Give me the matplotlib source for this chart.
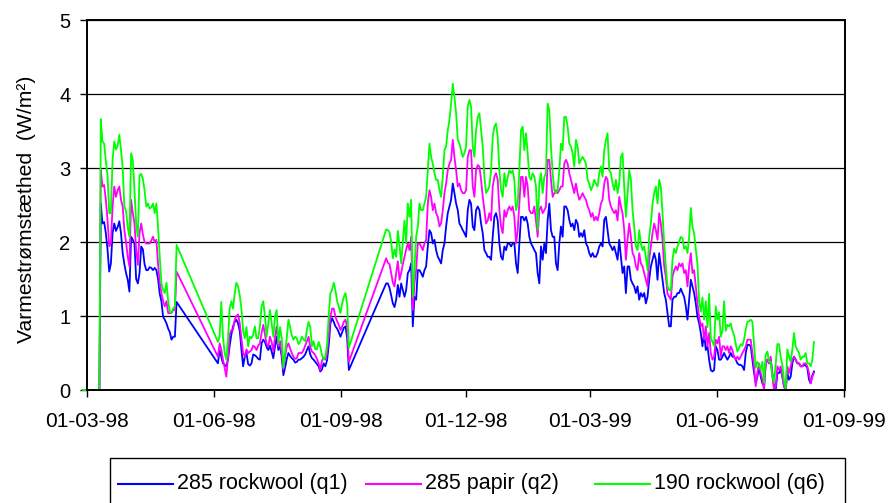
import numpy as np
import pandas as pd
import matplotlib
matplotlib.use("Agg")
import matplotlib.pyplot as plt
import matplotlib.dates as mdates
from matplotlib.lines import Line2D
from matplotlib.patches import Rectangle

plt.rcParams['font.family'] = ['Liberation Sans', 'DejaVu Sans']

# measuring periods (evenly spaced readings inside each period, lines jump the gaps)
period_start = ["1998-02-26", "1998-03-11", "1998-06-04", "1998-10-04 02:00"]
period_end = ["1998-03-10", "1998-05-05", "1998-09-07", "1999-08-10 12:00"]

# 285 rockwool (q1)
q1_p0 = [0, 0]
q1_p1 = [2.52, 2.25, 2.27, 2.12, 1.9, 1.6, 1.71, 2.12, 2.25, 2.15, 2.2, 2.28, 2.12, 1.85, 1.7, 1.58,
         1.49, 1.33, 2.07, 2.03, 1.98, 1.5, 1.44, 1.58, 1.94, 1.9, 1.7, 1.62, 1.62, 1.66, 1.65, 1.62,
         1.65, 1.62, 1.5, 1.3, 1.2, 0.99, 0.95, 0.9, 0.83, 0.78, 0.68, 0.72, 0.72, 1.19]
q1_p2 = [0.36, 0.54, 0.45, 0.36, 0.34, 0.32, 0.41, 0.6, 0.75, 0.86,
         0.92, 0.95, 0.9, 0.8, 0.55, 0.32, 0.45, 0.5, 0.35, 0.33,
         0.36, 0.48, 0.47, 0.45, 0.42, 0.41, 0.63, 0.68, 0.65, 0.58,
         0.54, 0.6, 0.52, 0.43, 0.59, 0.72, 0.54, 0.6, 0.45, 0.2,
         0.3, 0.42, 0.5, 0.46, 0.43, 0.41, 0.37, 0.38, 0.41, 0.41,
         0.43, 0.45, 0.48, 0.54, 0.59, 0.48, 0.43, 0.41, 0.38, 0.35,
         0.32, 0.25, 0.28, 0.36, 0.32, 0.4, 0.6, 0.9, 0.97, 0.92,
         0.86, 0.83, 0.78, 0.72, 0.78, 0.84, 0.86, 0.7, 0.27]
q1_p3 = [1.44, 1.44, 1.38, 1.28, 1.17, 1.12, 1.22, 1.42, 1.26,
         1.44, 1.35, 1.26, 1.35, 1.58, 1.62, 1.71, 0.86, 1.26, 1.22,
         1.62, 1.62, 1.58, 1.53, 1.62, 1.67, 1.94, 2.16, 2.12, 1.98,
         2.03, 1.89, 1.8, 1.76, 1.71, 1.89, 1.98, 2.21, 2.39, 2.48,
         2.57, 2.79, 2.66, 2.52, 2.43, 2.25, 2.21, 2.16, 2.12, 2.07,
         2.43, 2.57, 2.52, 2.21, 2.16, 2.43, 2.48, 2.43, 2.25, 2.12,
         1.89, 1.85, 1.8, 1.8, 1.76, 2.07, 2.34, 2.39, 2.29, 1.98,
         1.8, 1.76, 1.94, 1.89, 1.98, 1.98, 1.94, 1.98, 1.98, 1.71,
         1.58, 1.98, 2.34, 2.34, 2.29, 2.34, 2.25, 2.07, 1.98,
         1.94, 1.89, 1.85, 1.58, 1.44, 1.94, 1.76, 1.98, 1.85, 2.3,
         2.52, 2.16, 2.07, 2.07, 1.71, 1.62, 1.98, 2.21, 2.07, 2.48,
         2.48, 2.43, 2.3, 2.21, 2.25, 2.16, 2.3, 2.25, 2.07, 2.12,
         2.07, 2.16, 1.98, 1.94, 1.85, 1.8, 1.85, 1.8, 1.8, 1.85,
         1.94, 1.98, 1.94, 2.3, 2.34, 2.16, 1.98, 1.94, 1.89, 1.94,
         1.85, 1.76, 2.03, 1.8, 1.58, 1.67, 1.31, 1.67, 1.67, 1.49,
         1.44, 1.4, 1.31, 1.4, 1.22, 1.31, 1.26, 1.31, 1.17, 1.26,
         1.49, 1.67, 1.76, 1.85, 1.76, 1.49, 1.85, 1.67, 1.49, 1.31,
         1.22, 1.04, 0.86,
         0.86, 1.22, 1.26, 1.26, 1.31, 1.31, 1.37, 1.31, 1.26, 1.13,
         0.95, 1.22, 1.49, 1.4, 1.31, 1.17, 0.99, 0.9, 0.77, 0.59,
         0.77, 0.54, 0.59, 0.41, 0.27, 0.25, 0.27, 0.59, 0.54, 0.41,
         0.41, 0.45, 0.5, 0.45, 0.41, 0.45, 0.5, 0.45, 0.45, 0.41,
         0.36, 0.34, 0.34, 0.32, 0.27, 0.5, 0.61, 0.61, 0.59, 0.41,
         0.23, 0.09, 0.18, 0.32, 0.18, 0.09, 0.05, 0.36, 0.41, 0.36,
         0.41, 0.23, 0.05, 0.0, 0.23, 0.23, 0.27, 0.18, 0.05, 0.0,
         0.23, 0.14, 0.18, 0.36, 0.45, 0.41, 0.36, 0.36, 0.32, 0.32,
         0.34, 0.33, 0.3, 0.14, 0.09, 0.2, 0.25]

# 285 papir (q2)
q2_p0 = [0, 0]
q2_p1 = [2.97, 2.75, 2.77, 2.57, 2.3, 1.94, 1.98, 2.48, 2.75, 2.61, 2.7, 2.75, 2.57, 2.48, 2.16, 2.0,
         1.8, 1.67, 2.57, 2.39, 2.25, 1.9, 1.69, 2.12, 2.25, 2.1, 2.0, 1.98, 1.98, 1.98, 2.02, 2.07,
         2.0, 2.03, 1.7, 1.45, 1.31, 1.2, 1.13, 1.2, 1.04, 1.04, 1.04, 1.08, 1.08, 1.6]
q2_p2 = [0.45, 0.63, 0.55, 0.41, 0.3, 0.18, 0.45, 0.75, 0.81, 0.81,
         0.95, 1.0, 1.02, 0.9, 0.7, 0.5, 0.45, 0.55, 0.5, 0.52,
         0.54, 0.6, 0.58, 0.54, 0.6, 0.63, 0.77, 0.88, 0.75, 0.62,
         0.59, 0.72, 0.65, 0.52, 0.72, 0.86, 0.59, 0.66, 0.5, 0.28,
         0.45, 0.58, 0.63, 0.56, 0.5, 0.45, 0.42, 0.43, 0.5, 0.5,
         0.5, 0.54, 0.6, 0.66, 0.72, 0.58, 0.52, 0.5, 0.47, 0.42,
         0.36, 0.27, 0.4, 0.44, 0.41, 0.5, 0.75, 0.99, 1.1, 1.1,
         0.99, 0.93, 0.88, 0.81, 0.86, 0.92, 0.95, 0.85, 0.38]
q2_p3 = [1.78, 1.72, 1.7, 1.58, 1.45, 1.4, 1.58, 1.74, 1.49,
         1.58, 1.7, 1.8, 1.9, 1.98, 1.89, 2.07, 1.08, 1.44, 1.62,
         1.98, 1.98, 1.94, 1.89, 1.98, 2.03, 2.52, 2.7, 2.61, 2.43,
         2.52, 2.39, 2.34, 2.21, 2.25, 2.43, 2.66, 2.79, 2.97, 3.06,
         3.11, 3.38, 3.15, 2.97, 2.75, 2.79, 2.7, 2.66, 2.66, 2.7,
         3.15, 3.24, 3.24, 2.75, 2.61, 2.97, 3.04, 3.02, 2.84, 2.61,
         2.43, 2.25, 2.29, 2.39, 2.29, 2.75, 2.88, 2.93, 2.84, 2.43,
         2.21, 2.12, 2.43, 2.34, 2.43, 2.48, 2.43, 2.48, 2.34, 1.98,
         2.16, 2.52, 2.88, 2.88, 2.61, 2.88, 2.75, 2.43, 2.39,
         2.39, 2.48, 2.29, 2.07, 2.43, 2.48, 2.39, 2.43, 2.48, 3.11,
         3.11, 2.84, 2.61, 2.66, 2.7, 2.66, 2.7, 2.75, 2.75, 3.06,
         3.11, 3.06, 2.93, 2.84, 2.75, 2.66, 2.79, 2.66, 2.57, 2.61,
         2.66, 2.61, 2.57, 2.48, 2.43, 2.34, 2.39, 2.29, 2.34, 2.29,
         2.39, 2.52, 2.57, 2.79, 2.88, 2.84, 2.57, 2.48, 2.43, 2.39,
         2.43, 2.29, 2.61, 2.48, 2.39, 2.16, 1.76, 2.03, 2.25, 2.07,
         1.85, 1.8, 1.67, 1.62, 1.85, 1.71, 1.67, 1.58, 1.49, 1.4,
         1.76, 1.94, 2.12, 2.25, 2.16, 2.03, 2.39, 2.25, 2.03, 1.67,
         1.53, 1.3, 1.26,
         1.22, 1.53, 1.62, 1.67, 1.62, 1.71, 1.67, 1.71, 1.58, 1.62,
         1.4, 1.67, 1.85, 1.58, 1.62, 1.4, 1.17, 0.99, 0.86, 0.9,
         0.68, 0.86, 0.59, 0.77, 0.5, 0.41, 0.45, 0.68, 0.63, 0.72,
         0.45, 0.59, 0.59, 0.54, 0.59, 0.5, 0.59, 0.54, 0.45, 0.41,
         0.45, 0.41, 0.45, 0.5, 0.54, 0.59, 0.68, 0.68, 0.68, 0.5,
         0.32, 0.05, 0.23, 0.36, 0.23, 0.14, 0.0, 0.36, 0.41, 0.36,
         0.45, 0.18, 0.0, 0.05, 0.32, 0.27, 0.32, 0.18, 0.05, 0.0,
         0.32, 0.23, 0.32, 0.41, 0.45, 0.41, 0.36, 0.36, 0.32, 0.32,
         0.36, 0.36, 0.32, 0.23, 0.09, 0.18, 0.23]

# 190 rockwool (q6)
q6_p0 = [0, 0]
q6_p1 = [3.66, 3.36, 3.33, 3.1, 2.9, 2.39, 2.39, 3.11, 3.36, 3.25, 3.3, 3.45, 3.24, 3.0, 2.48, 2.42,
         2.2, 2.07, 3.2, 3.11, 2.7, 2.25, 2.07, 2.9, 2.92, 2.85, 2.7, 2.48, 2.52, 2.45, 2.47, 2.52,
         2.39, 2.52, 2.2, 1.8, 1.44, 1.35, 1.31, 1.45, 1.2, 1.06, 1.04, 1.1, 1.13, 1.96]
q6_p2 = [0.65, 0.72, 1.19, 0.72, 0.5, 0.41, 0.68, 1.1, 1.2, 1.1,
         1.3, 1.45, 1.4, 1.28, 1.1, 0.8, 0.7, 0.85, 0.59, 0.72,
         0.7, 0.75, 0.86, 0.7, 0.7, 0.86, 1.13, 1.2, 1.0, 0.72,
         0.9, 1.08, 0.9, 0.72, 0.99, 1.08, 0.63, 0.85, 0.7, 0.3,
         0.5, 0.7, 0.95, 0.85, 0.74, 0.68, 0.72, 0.7, 0.62, 0.65,
         0.72, 0.68, 0.66, 0.81, 0.92, 0.85, 0.59, 0.66, 0.55, 0.55,
         0.65, 0.58, 0.47, 0.41, 0.45, 0.6, 1.0, 1.31, 1.35, 1.45,
         1.35, 1.2, 1.13, 1.04, 1.17, 1.26, 1.31, 1.15, 0.57]
q6_p3 = [2.17, 2.16, 2.13, 2.0, 1.78, 1.9, 1.8, 2.15, 1.96,
         1.71, 2.0, 2.29, 1.98, 2.52, 2.34, 2.57, 1.26, 1.62, 2.07,
         2.21, 2.52, 2.43, 2.43, 2.52, 2.61, 2.97, 3.33, 3.15, 3.06,
         2.93, 2.84, 2.84, 2.7, 2.61, 2.88, 3.24, 3.29, 3.51, 3.65,
         3.87, 4.14, 3.96, 3.74, 3.38, 3.33, 3.24, 3.15, 3.2, 3.29,
         3.83, 3.92, 3.83, 3.29, 3.15, 3.51, 3.69, 3.74, 3.51, 3.29,
         2.88, 2.66, 2.7, 2.75, 2.97, 3.42, 3.56, 3.6, 3.42, 2.97,
         2.7, 2.61, 2.93, 2.75, 2.88, 2.97, 2.93, 2.97, 2.84, 2.43,
         2.52, 2.97, 3.51, 3.56, 3.24, 3.47, 3.2, 2.88, 2.84,
         2.93, 2.88, 2.75, 2.16, 2.79, 2.93, 2.66, 2.88, 2.93, 3.87,
         3.78, 3.29, 2.93, 2.7, 2.66, 2.7, 2.97, 3.33, 3.24, 3.69,
         3.69, 3.56, 3.33, 3.29, 3.2, 3.02, 3.38, 3.29, 3.06, 3.11,
         3.15, 3.11, 3.06, 2.84, 2.79, 2.7, 2.75, 2.84, 2.79, 2.75,
         2.93, 3.02, 2.88, 3.24, 3.38, 3.47, 2.97, 2.93, 2.79, 2.7,
         2.84, 2.66, 2.79, 3.15, 3.2, 2.75, 2.34, 2.66, 2.97, 2.84,
         2.43, 2.21, 1.94, 1.89, 2.16, 1.98, 1.89, 1.94, 1.8, 1.62,
         2.07, 2.25, 2.52, 2.66, 2.75, 2.52, 2.84, 2.75, 2.39, 1.98,
         1.67, 1.4, 1.35,
         1.35, 1.76, 1.91, 1.85, 1.94, 2.0, 2.07, 2.05, 1.91, 1.94,
         1.85, 2.07, 2.46, 2.2, 2.12, 1.9, 1.7, 1.2, 1.06, 1.25,
         0.95, 1.2, 0.85, 1.3, 0.7, 0.65, 0.6, 1.13, 0.95, 1.05,
         0.72, 0.8, 1.2, 0.8, 0.88, 0.86, 0.9, 0.8, 0.74, 0.62,
         0.52, 0.57, 0.62, 0.6, 0.68, 0.82, 0.92, 0.93, 0.95, 0.92,
         0.6, 0.3, 0.38, 0.34, 0.27, 0.38, 0.1, 0.48, 0.52, 0.38,
         0.38, 0.18, 0.1, 0.35, 0.62, 0.62, 0.45, 0.34, 0.12, 0.02,
         0.55, 0.45, 0.38, 0.55, 0.77, 0.59, 0.54, 0.5, 0.41, 0.45,
         0.45, 0.5, 0.36, 0.36, 0.32, 0.41, 0.65]

labels = ["285 rockwool (q1)", "285 papir (q2)", "190 rockwool (q6)"]
colors = ["#0000FF", "#FF00FF", "#00FF00"]

q1_parts = [q1_p0, q1_p1, q1_p2, q1_p3]
q2_parts = [q2_p0, q2_p1, q2_p2, q2_p3]
q6_parts = [q6_p0, q6_p1, q6_p2, q6_p3]

dates = []
for s, e, a, b, c in zip(period_start, period_end, q1_parts, q2_parts, q6_parts):
    assert len(a) == len(b) == len(c), (s, len(a), len(b), len(c))
    dates.append(pd.date_range(s, e, periods=len(a)))
dates = pd.DatetimeIndex(np.concatenate([d.values for d in dates]))
series = [np.concatenate(q1_parts), np.concatenate(q2_parts), np.concatenate(q6_parts)]

tick_dates = pd.to_datetime(["1998-03-01", "1998-06-01", "1998-09-01", "1998-12-01",
                             "1999-03-01", "1999-06-01", "1999-09-01"])

W, H = 888, 503
fig = plt.figure(figsize=(W / 100, H / 100), dpi=100)
ax = fig.add_axes([87 / W, 1 - 390 / H, (845 - 87) / W, (390 - 20) / H])

for vals, col in zip(series, colors):
    ax.plot(dates, vals, color=col, lw=1.3, clip_on=False)

ax.set_ylim(0, 5)
ax.set_xlim(pd.Timestamp("1998-03-01"), pd.Timestamp("1999-09-02"))
ax.set_yticks([0, 1, 2, 3, 4, 5])
ax.set_xticks(tick_dates)
ax.xaxis.set_major_formatter(mdates.DateFormatter("%d-%m-%y"))
ax.yaxis.grid(True, color="black", lw=0.9)
ax.set_axisbelow(True)
ax.tick_params(axis="both", direction="out", length=5, width=1, color="black")
ax.tick_params(axis="x", pad=11, labelsize=15)
ax.tick_params(axis="y", pad=7, labelsize=14.5)
for sp in ax.spines.values():
    sp.set_linewidth(1.4)
    sp.set_color("black")

fig.text(27 / W, 1 - 209 / H, "Varmestrømstæthed  (W/m²)", rotation=90,
         ha="center", va="center", fontsize=15.2)

# legend box, its lower edge runs below the picture
fig.add_artist(Rectangle((110 / W, 1 - 515 / H), 735 / W, 57 / H, transform=fig.transFigure,
                         fill=False, ec="black", lw=1.0, clip_on=False))
legend_y = 1 - 484 / H
for (x0, x1), lab, col in zip([(118, 173), (366, 421), (595, 650)], labels, colors):
    fig.add_artist(Line2D([x0 / W, x1 / W], [legend_y, legend_y], transform=fig.transFigure,
                          color=col, lw=1.5))
    fig.text((x1 + 4) / W, legend_y, lab, ha="left", va="center", fontsize=15.5)

fig.savefig("out.png", dpi=100)
